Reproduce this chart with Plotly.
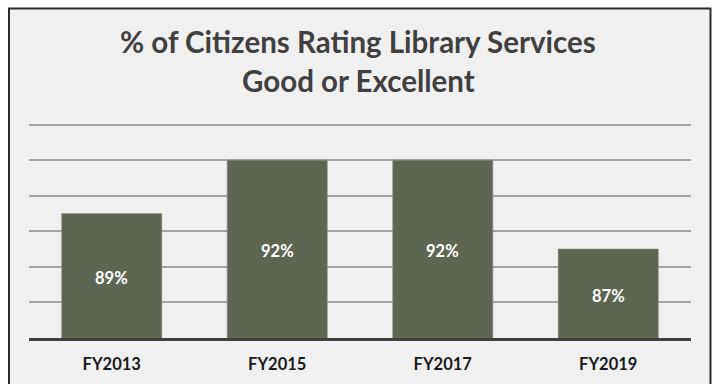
import plotly.graph_objects as go

# Survey results by fiscal year
years = ["FY2013", "FY2015", "FY2017", "FY2019"]
pct_good_excellent = [89, 92, 92, 87]
grid_ticks = [84, 86, 88, 90, 92, 94]

title_lines = ["% of Citizens Rating Library Services", "Good or Excellent"]

W, H = 717, 384
M_L, M_R, M_T, M_B = 29, 26, 89, 46
Y_RANGE = [82, 96]

BAR_COLOR = "#5e6551"
PANEL_BG = "#f0f0f0"
FONT = "Lato"


def px_x(px):
    """Pixel column -> paper x."""
    return (px - M_L) / (W - M_L - M_R)


def px_y(py):
    """Pixel row (from top) -> paper y."""
    return (H - M_B - py) / (H - M_T - M_B)


fig = go.Figure(
    go.Bar(
        x=years,
        y=pct_good_excellent,
        marker=dict(color=BAR_COLOR, line=dict(color="#8a9080", width=0.6)),
        hoverinfo="skip",
    )
)

# value labels centred on the visible part of each bar
for yr, v in zip(years, pct_good_excellent):
    fig.add_annotation(
        x=yr, y=(Y_RANGE[0] + v) / 2, text=f"{v}%",
        showarrow=False, xanchor="center", yanchor="middle", yshift=-2,
        font=dict(family=FONT, size=16.5, color="white", weight="bold"),
    )

# framed light-grey panel behind the chart
fig.add_shape(
    type="rect", xref="paper", yref="paper",
    x0=px_x(9), x1=px_x(710.5), y0=px_y(400), y1=px_y(8.5),
    fillcolor=PANEL_BG, line=dict(color="#2b2b2b", width=2), layer="below",
)

for i, line in enumerate(title_lines):
    fig.add_annotation(
        text=line, xref="paper", yref="paper",
        x=px_x(358), y=px_y(41 + 39.5 * i), xanchor="center", yanchor="middle",
        showarrow=False,
        font=dict(family=FONT, size=29.5, color="#404040", weight="bold"),
    )

fig.update_layout(
    width=W, height=H,
    margin=dict(l=M_L, r=M_R, t=M_T, b=M_B, autoexpand=False),
    paper_bgcolor="white",
    plot_bgcolor="rgba(0,0,0,0)",
    bargap=0.395,
    showlegend=False,
    xaxis=dict(
        showline=True, linecolor="#404040", linewidth=2.5,
        showgrid=False, ticks="", ticklabelstandoff=9, automargin=False,
        tickfont=dict(family=FONT, size=16.5, color="#1a1a1a", weight="bold"),
    ),
    yaxis=dict(
        range=Y_RANGE, tickvals=grid_ticks, showticklabels=False,
        showgrid=True, gridcolor="#a3a3a3", gridwidth=1.5, automargin=False,
        zeroline=False, showline=False, fixedrange=True,
    ),
)

fig.write_html("out.html")
